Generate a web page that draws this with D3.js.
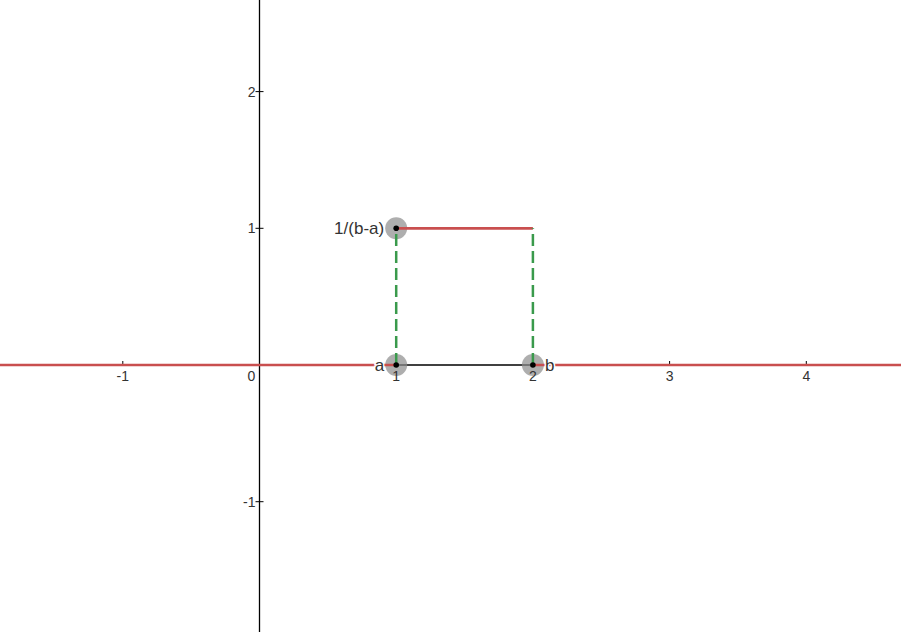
<!DOCTYPE html>
<html><head><meta charset="utf-8">
<script src="https://cdn.jsdelivr.net/npm/d3@7"></script>
<style>body{margin:0;background:#fff}svg{display:block}</style>
</head><body>
<script>
const xTicks = [-1, 0, 1, 2, 3, 4];
const yTicks = [-1, 1, 2];
const density = [
  {x0: -10, x1: 1, y: 0},
  {x0: 1, x1: 2, y: 1},
  {x0: 2, x1: 10, y: 0}
];
const dashedX = [1, 2];
const points = [
  {x: 1, y: 1, label: "1/(b-a)", side: "left"},
  {x: 1, y: 0, label: "a", side: "left"},
  {x: 2, y: 0, label: "b", side: "right"}
];

const W = 901, H = 632;
const unit = 136.7;
const x0 = 259.5, y0 = 365;
const x = d3.scaleLinear().domain([-x0/unit, (W - x0)/unit]).range([0, W]);
const y = d3.scaleLinear().domain([-(H - y0)/unit, y0/unit]).range([H, 0]);

const svg = d3.select("body").append("svg").attr("width", W).attr("height", H);

// axes
svg.append("line").attr("x1", 0).attr("x2", W).attr("y1", y(0)).attr("y2", y(0))
  .attr("stroke", "#000").attr("stroke-width", 1.3);
svg.append("line").attr("x1", x(0)).attr("x2", x(0)).attr("y1", 0).attr("y2", H)
  .attr("stroke", "#000").attr("stroke-width", 1.3);

// gray point halos
svg.selectAll("circle.halo").data(points).enter().append("circle")
  .attr("cx", d => x(d.x)).attr("cy", d => y(d.y)).attr("r", 11)
  .attr("fill", "#8c8c8c").attr("fill-opacity", 0.7);

// ticks
svg.selectAll("line.xt").data(xTicks.filter(t => t !== 0)).enter().append("line")
  .attr("x1", d => x(d)).attr("x2", d => x(d)).attr("y1", y(0) - 4).attr("y2", y(0) + 1)
  .attr("stroke", "#000");
svg.selectAll("line.yt").data(yTicks).enter().append("line")
  .attr("y1", d => y(d)).attr("y2", d => y(d)).attr("x1", x(0) - 4).attr("x2", x(0) + 4)
  .attr("stroke", "#000");

// density function (red)
svg.selectAll("line.dens").data(density).enter().append("line")
  .attr("x1", d => x(d.x0)).attr("x2", d => x(d.x1))
  .attr("y1", d => y(d.y)).attr("y2", d => y(d.y))
  .attr("stroke", "#c94f4f").attr("stroke-width", 2.7);

// dashed green
svg.selectAll("line.dash").data(dashedX).enter().append("line")
  .attr("x1", d => x(d)).attr("x2", d => x(d)).attr("y1", y(0)).attr("y2", y(1))
  .attr("stroke", "#3a9a4c").attr("stroke-width", 2.5).attr("stroke-dasharray", "12,5");

// tick labels
const tickFont = "Arial, 'Liberation Sans', sans-serif";
svg.selectAll("text.xl").data(xTicks).enter().append("text")
  .attr("x", d => d === 0 ? x(0) - 8 : x(d)).attr("y", y(0) + 16)
  .attr("text-anchor", "middle").attr("font-family", tickFont).attr("font-size", 14)
  .attr("fill", "#333").text(d => d);
svg.selectAll("text.yl").data(yTicks).enter().append("text")
  .attr("x", x(0) - 4).attr("y", d => y(d) + 5)
  .attr("text-anchor", "end").attr("font-family", tickFont).attr("font-size", 14)
  .attr("fill", "#333").text(d => d);

// black points
svg.selectAll("circle.pt").data(points).enter().append("circle")
  .attr("cx", d => x(d.x)).attr("cy", d => y(d.y)).attr("r", 2.8).attr("fill", "#000");

// point labels
svg.selectAll("text.pl").data(points).enter().append("text")
  .attr("x", d => d.side === "left" ? x(d.x) - 12 : x(d.x) + 12)
  .attr("y", d => y(d.y) + 6)
  .attr("text-anchor", d => d.side === "left" ? "end" : "start")
  .attr("font-family", tickFont).attr("font-size", 17).attr("fill", "#333")
  .attr("stroke", "#fff").attr("stroke-width", 3).attr("paint-order", "stroke")
  .text(d => d.label);
</script>
</body></html>
